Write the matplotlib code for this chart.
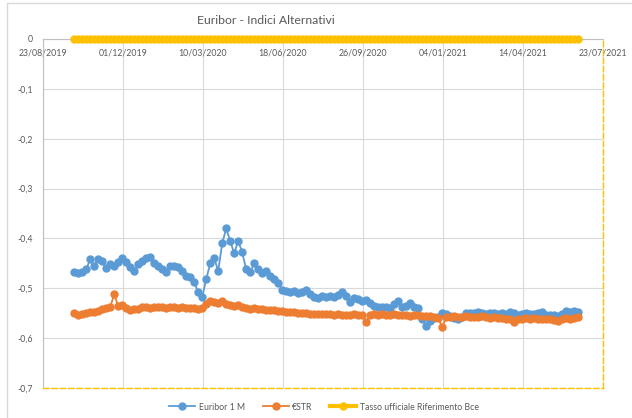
import numpy as np
import pandas as pd
import matplotlib
matplotlib.use("Agg")
from matplotlib import pyplot as plt
import matplotlib.dates as mdates
from matplotlib.patches import Rectangle

plt.rcParams['font.family'] = ['Lato', 'DejaVu Sans']

# one value every 5 days, 01/10/2019 -> 22/06/2021
dates = pd.date_range('2019-10-01', '2021-06-22', freq='5D')

euribor_1m = [
    -0.467, -0.470, -0.468, -0.462, -0.442, -0.455, -0.441, -0.446, -0.460, -0.452,
    -0.455, -0.448, -0.440, -0.447, -0.458, -0.465, -0.452, -0.446, -0.440, -0.438,
    -0.450, -0.455, -0.462, -0.468, -0.455, -0.456, -0.458, -0.465, -0.475, -0.478,
    -0.488, -0.508, -0.518, -0.482, -0.450, -0.440, -0.465, -0.410, -0.380, -0.405,
    -0.430, -0.405, -0.428, -0.462, -0.468, -0.450, -0.462, -0.470, -0.465, -0.475,
    -0.482, -0.490, -0.503, -0.505, -0.508, -0.505, -0.510, -0.507, -0.503, -0.512,
    -0.518, -0.520, -0.515, -0.518, -0.515, -0.517, -0.514, -0.507, -0.515, -0.528,
    -0.520, -0.522, -0.525, -0.524, -0.530, -0.536, -0.538, -0.537, -0.538, -0.540,
    -0.532, -0.525, -0.537, -0.535, -0.530, -0.538, -0.540, -0.562, -0.575, -0.565,
    -0.560, -0.558, -0.550, -0.552, -0.556, -0.560, -0.562, -0.558, -0.550, -0.549,
    -0.550, -0.548, -0.550, -0.551, -0.549, -0.550, -0.552, -0.550, -0.551, -0.548,
    -0.550, -0.553, -0.552, -0.549, -0.551, -0.552, -0.550, -0.548, -0.553, -0.554,
    -0.553, -0.555, -0.552, -0.546, -0.548, -0.546, -0.548,
]

estr = [
    -0.550, -0.553, -0.552, -0.549, -0.548, -0.547, -0.546, -0.542, -0.540, -0.538,
    -0.512, -0.536, -0.534, -0.540, -0.544, -0.542, -0.541, -0.537, -0.538, -0.539,
    -0.538, -0.537, -0.538, -0.539, -0.537, -0.538, -0.539, -0.538, -0.539, -0.540,
    -0.540, -0.541, -0.540, -0.532, -0.525, -0.527, -0.530, -0.526, -0.531, -0.534,
    -0.536, -0.534, -0.538, -0.540, -0.541, -0.540, -0.542, -0.541, -0.543, -0.543,
    -0.544, -0.545, -0.546, -0.547, -0.547, -0.548, -0.549, -0.550, -0.550, -0.551,
    -0.551, -0.552, -0.551, -0.552, -0.552, -0.553, -0.552, -0.553, -0.553, -0.554,
    -0.552, -0.553, -0.554, -0.568, -0.553, -0.552, -0.553, -0.551, -0.553, -0.554,
    -0.552, -0.553, -0.554, -0.553, -0.555, -0.554, -0.553, -0.556, -0.555, -0.556,
    -0.557, -0.560, -0.578, -0.558, -0.557, -0.556, -0.557, -0.558, -0.556, -0.557,
    -0.558, -0.557, -0.556, -0.558, -0.559, -0.558, -0.559, -0.560, -0.561, -0.562,
    -0.567, -0.562, -0.561, -0.560, -0.561, -0.560, -0.561, -0.562, -0.561, -0.562,
    -0.563, -0.566, -0.562, -0.560, -0.561, -0.559, -0.558,
]

tasso_bce = [0.0] * len(dates)

tick_dates = pd.to_datetime(['2019-08-23', '2019-12-01', '2020-03-10', '2020-06-18',
                             '2020-09-26', '2021-01-04', '2021-04-14', '2021-07-23'])
y_ticks = [0, -0.1, -0.2, -0.3, -0.4, -0.5, -0.6, -0.7]

blue = '#5b9bd5'
orange = '#ed7d31'
yellow = '#ffc000'
grey = '#595959'

fig = plt.figure(figsize=(6.32, 4.18), dpi=100)
fig.patches.append(Rectangle((7 / 632, -0.1), 1.0, 1 - 3 / 418 + 0.1, transform=fig.transFigure,
                             fill=False, edgecolor='#d9d9d9', linewidth=1))

ax = fig.add_axes([43 / 632, 1 - 388 / 418, (603 - 43) / 632, (388 - 39) / 418])

ax.plot(dates, euribor_1m, color=blue, lw=1.3, marker='o', ms=5, label='Euribor 1 M', zorder=3)
ax.plot(dates, estr, color=orange, lw=1.3, marker='o', ms=5, label='€STR', zorder=3)
ax.plot(dates, tasso_bce, color=yellow, lw=3, marker='o', ms=5, label='Tasso ufficiale Riferimento Bce',
        zorder=4, clip_on=False)

ax.set_xlim(tick_dates[0], tick_dates[-1])
ax.set_ylim(-0.7, 0)
ax.set_xticks(tick_dates)
ax.xaxis.set_major_formatter(mdates.DateFormatter('%d/%m/%Y'))
ax.set_yticks(y_ticks)
ax.set_yticklabels(['0' if v == 0 else ('%.1f' % v).replace('.', ',') for v in y_ticks])

ax.grid(True, color='#d9d9d9', lw=0.8, zorder=0)
ax.set_axisbelow(True)

ax.tick_params(axis='x', top=True, bottom=False, labeltop=True, labelbottom=False,
               direction='in', length=0, pad=-13, labelsize=6.3, labelcolor=grey)
ax.tick_params(axis='y', length=0, pad=7, labelsize=6.3, labelcolor=grey)

ax.spines['left'].set_color('#bfbfbf')
ax.spines['top'].set_color('#bfbfbf')
for side in ('right', 'bottom'):
    ax.spines[side].set_color(yellow)
    ax.spines[side].set_linestyle((0, (4, 2)))
    ax.spines[side].set_linewidth(1)

fig.text(266 / 632, 1 - 20 / 418, 'Euribor - Indici Alternativi', ha='center', va='center',
         fontsize=8.8, color=grey)

fig.legend(loc='center', bbox_to_anchor=(324 / 632, 1 - 407 / 418), ncol=3, frameon=False,
           fontsize=6.3, labelcolor=grey, handlelength=3, columnspacing=2, handletextpad=0.4)

fig.savefig('out.png', dpi=100, facecolor='white')
